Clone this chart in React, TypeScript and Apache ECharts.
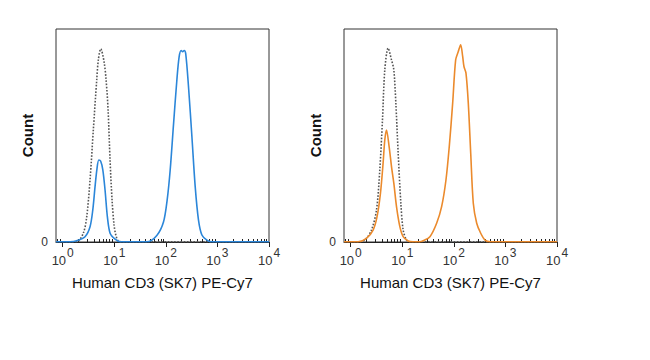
import React, { useEffect, useRef } from "react";
import * as echarts from "echarts";

// x: log10(fluorescence), y: relative count (% of max scale)
const LEFT_ISOTYPE: [number, number][] = [
  [-0.13, 0.1], [0.142, 0.1], [0.272, 0.1], [0.4, 4.2], [0.466, 11.9], [0.53, 29.1],
  [0.594, 52.7], [0.66, 76.2], [0.691, 85.6], [0.738, 90.7], [0.802, 84.6], [0.841, 76.2],
  [0.88, 62.0], [0.918, 38.5], [0.957, 19.7], [0.996, 8.0], [1.035, 2.8], [1.093, 0.2],
  [1.21, 0.1], [4.0, 0.1],
];
const LEFT_STAINED: [number, number][] = [
  [-0.13, 0.1], [0.142, 0.1], [0.272, 0.6], [0.433, 2.5], [0.53, 7.2], [0.583, 15.0],
  [0.627, 26.0], [0.665, 34.5], [0.7, 38.5], [0.735, 38.0], [0.777, 34.0], [0.821, 24.4], [0.866, 11.9],
  [0.919, 4.1], [1.016, 1.3], [1.113, 0.1], [1.565, 0.1], [1.631, 0.1], [1.825, 3.1],
  [1.954, 9.4], [2.025, 19.7], [2.084, 33.8], [2.148, 55.0], [2.214, 76.2], [2.258, 87.0],
  [2.297, 89.9], [2.326, 89.3], [2.355, 89.9], [2.385, 88.4], [2.439, 73.0], [2.505, 49.5],
  [2.569, 26.0], [2.633, 10.3], [2.699, 3.3], [2.796, 0.9], [2.893, 0.1], [4.0, 0.1],
];
const RIGHT_ISOTYPE: [number, number][] = [
  [-0.13, 0.1], [0.142, 0.1], [0.272, 0.9], [0.403, 5.6], [0.5, 15.0], [0.564, 33.8],
  [0.616, 57.3], [0.661, 80.8], [0.725, 91.0], [0.791, 85.5], [0.836, 80.8], [0.875, 65.3],
  [0.92, 41.8], [0.972, 18.3], [1.017, 5.6], [1.083, 0.9], [1.147, 0.1], [4.0, 0.1],
];
const RIGHT_STAINED: [number, number][] = [
  [-0.13, 0.1], [0.142, 0.1], [0.305, 1.7], [0.434, 5.6], [0.511, 11.9], [0.577, 22.9],
  [0.628, 37.0], [0.661, 47.9], [0.694, 52.6], [0.745, 44.8], [0.791, 35.4], [0.836, 27.6],
  [0.888, 16.6], [0.953, 7.2], [1.017, 2.5], [1.114, 0.5], [1.211, 0.1], [1.341, 0.1],
  [1.405, 0.6], [1.536, 2.5], [1.666, 8.8], [1.763, 16.6], [1.847, 29.1], [1.911, 44.8],
  [1.977, 65.2], [2.035, 85.5], [2.086, 89.4], [2.132, 92.6], [2.171, 87.1], [2.196, 82.4],
  [2.235, 79.3], [2.28, 65.2], [2.327, 41.7], [2.377, 18.2], [2.443, 8.8], [2.521, 4.1],
  [2.605, 0.9], [2.702, 0.1], [4.0, 0.1],
];

const MAJOR_DECADES = [0, 1, 2, 3, 4];
const MINOR_TICKS: number[] = [];
for (let d = -1; d < 4; d++) {
  for (let k = 2; k <= 9; k++) {
    const v = d + Math.log10(k);
    if (v >= -0.13 && v <= 4) MINOR_TICKS.push(v);
  }
}
const X_TITLE = "Human CD3 (SK7) PE-Cy7";
const Y_TITLE = "Count";
const X_MIN = -0.13;
const X_MAX = 4;

const FONT = "Liberation Sans, Arial, sans-serif";

function majorAxis(gridIndex: number) {
  return {
    type: "value",
    gridIndex,
    min: X_MIN,
    max: X_MAX,
    name: X_TITLE,
    nameLocation: "middle",
    nameGap: 33,
    nameTextStyle: { fontFamily: FONT, fontSize: 15, color: "#111" },
    axisLine: { show: true, onZero: false, lineStyle: { color: "#222", width: 1 } },
    axisTick: { show: true, customValues: MAJOR_DECADES, length: 5, lineStyle: { color: "#222" } },
    axisLabel: {
      customValues: MAJOR_DECADES,
      margin: 5,
      formatter: (v: number) => `{b|10}{s|${Math.round(v)}}`,
      rich: {
        b: { fontFamily: FONT, fontSize: 13, color: "#333", lineHeight: 20, verticalAlign: "bottom" },
        s: { fontFamily: FONT, fontSize: 12, color: "#333", lineHeight: 20, verticalAlign: "top", padding: [0, 0, 0, 1] },
      },
    },
    splitLine: { show: false },
  };
}
function minorAxis(gridIndex: number) {
  return {
    type: "value",
    gridIndex,
    min: X_MIN,
    max: X_MAX,
    axisLine: { show: false },
    axisTick: { show: true, customValues: MINOR_TICKS, length: 3, lineStyle: { color: "#222" } },
    axisLabel: { show: false },
    splitLine: { show: false },
  };
}
function yAxis(gridIndex: number) {
  return {
    type: "value",
    gridIndex,
    min: 0,
    max: 100,
    name: Y_TITLE,
    nameLocation: "middle",
    nameGap: 21,
    nameRotate: 90,
    nameTextStyle: { fontFamily: FONT, fontSize: 15, fontWeight: "bold", color: "#111" },
    axisLine: { show: false },
    axisTick: { show: true, customValues: [0], length: 6, lineStyle: { color: "#222" } },
    axisLabel: { customValues: [0], margin: 8, fontFamily: FONT, fontSize: 12, color: "#333" },
    splitLine: { show: false },
  };
}

export default function App() {
  const ref = useRef<HTMLDivElement>(null);
  useEffect(() => {
    if (!ref.current) return;
    const chart = echarts.init(ref.current, null, { renderer: "svg" });
    const gridBase = { top: 29, width: 213, height: 213, show: true, borderColor: "#333", borderWidth: 1, backgroundColor: "transparent" };
    const line = (data: [number, number][], xi: number, yi: number, color: string, dotted: boolean) => ({
      type: "line",
      xAxisIndex: xi,
      yAxisIndex: yi,
      data,
      symbol: "none",
      smooth: 0.3,
      lineStyle: { color, width: dotted ? 1.6 : 1.6, type: dotted ? "dotted" : "solid" },
      z: dotted ? 2 : 3,
    });
    chart.setOption({
      animation: false,
      backgroundColor: "#fff",
      grid: [
        { ...gridBase, left: 56 },
        { ...gridBase, left: 344 },
      ],
      xAxis: [majorAxis(0), minorAxis(0), majorAxis(1), minorAxis(1)],
      yAxis: [yAxis(0), yAxis(1)],
      series: [
        line(LEFT_ISOTYPE, 0, 0, "#555", true),
        line(LEFT_STAINED, 0, 0, "#2b86d9", false),
        line(RIGHT_ISOTYPE, 2, 1, "#555", true),
        line(RIGHT_STAINED, 2, 1, "#eb8a2c", false),
      ],
    });
    return () => chart.dispose();
  }, []);
  return <div ref={ref} style={{ position: "fixed", left: 0, top: 0, width: 650, height: 360 }} />;
}
